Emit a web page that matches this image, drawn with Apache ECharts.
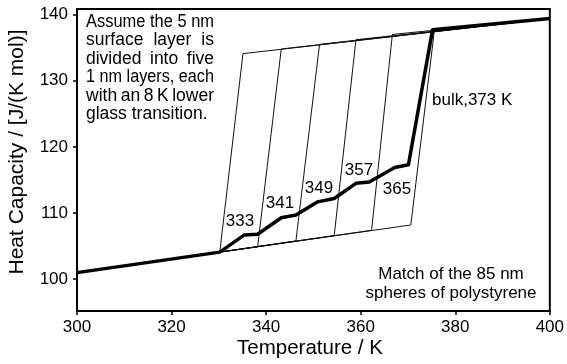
<!DOCTYPE html>
<html>
<head>
<meta charset="utf-8">
<script src="https://cdn.jsdelivr.net/npm/echarts@6/dist/echarts.min.js"></script>
<style>
  html, body { margin: 0; padding: 0; background: #fff; }
  #chart { width: 567px; height: 364px; }
</style>
</head>
<body>
<div id="chart"></div>
<script>
// Heat capacity of 85 nm polystyrene spheres: summed curve (bold)
const tempSum = [300, 330.2, 335.4, 338.2, 343.2, 346.3, 350.9, 354.4, 359.0, 361.8, 367.2, 370.1, 375.2, 400];
const cpSum   = [101.0, 104.1, 106.7, 106.8, 109.3, 109.7, 111.7, 112.2, 114.5, 114.7, 116.9, 117.3, 137.7, 139.4];

// Individual 1 nm layers (glass → transition → liquid) and the bulk
const layer333 = [[330.2, 104.1], [335.1, 134.1], [400, 139.4]];
const layer341 = [[330.2, 104.1], [338.2, 104.9], [343.2, 134.8], [400, 139.4]];
const layer349 = [[330.2, 104.1], [346.3, 105.8], [351.3, 135.5], [400, 139.4]];
const layer357 = [[330.2, 104.1], [354.4, 106.6], [359.0, 136.2], [400, 139.4]];
const layer365 = [[330.2, 104.1], [362.3, 107.4], [366.7, 137.0], [400, 139.4]];
const bulk373  = [[330.2, 104.1], [370.6, 108.2], [375.6, 137.7], [400, 139.4]];

const xTicks = [300, 320, 340, 360, 380, 400];
const yTicks = [100, 110, 120, 130, 140];

const layerLabels = ['333', '341', '349', '357', '365'];
const noteLines = ['Assume the 5 nm', 'surface layer is', 'divided into five', '1 nm layers, each', 'with an 8 K lower', 'glass transition.'];
const matchLines = ['Match of the 85 nm', 'spheres of polystyrene'];

const FONT = '"Liberation Sans", Arial, Helvetica, sans-serif';

function txt(x, y, text, size, align, extra) {
  return Object.assign({
    type: 'text', x: x, y: y, silent: true,
    style: {
      text: text, font: size + 'px ' + FONT, fill: '#000',
      align: align || 'left', verticalAlign: 'middle',
      textAlign: align || 'left', textVerticalAlign: 'middle'
    }
  }, extra || {});
}

// Justified note block in the upper-left corner
const meas = document.createElement('canvas').getContext('2d');
const noteSize = 17.5;
meas.font = noteSize + 'px ' + FONT;
const noteLeft = 86, noteRight = 214, noteTop = 22, noteStep = 18.5;
const graphics = [];
noteLines.forEach(function (line, i) {
  const y = noteTop + i * noteStep;
  const span = noteRight - noteLeft;
  const natural = meas.measureText(line).width;
  const squeeze = { scaleX: Math.min(1, span / natural), originX: 0, originY: 0 };
  if (i === noteLines.length - 1) {
    graphics.push(txt(noteLeft, y, line, noteSize, 'left', squeeze));
    return;
  }
  const words = line.split(' ');
  const widths = words.map(function (w) { return meas.measureText(w).width; });
  const total = widths.reduce(function (a, b) { return a + b; }, 0);
  const gap = (span - total) / (words.length - 1);
  if (gap < 3.5) {
    graphics.push(txt(noteLeft, y, line, noteSize, 'left', squeeze));
    return;
  }
  let x = noteLeft;
  words.forEach(function (w, k) {
    graphics.push(txt(x, y, w, noteSize, 'left'));
    x += widths[k] + gap;
  });
});

// Layer transition labels
const labelPos = [[240, 221], [280, 203], [319, 188], [359, 170], [397, 189]];
layerLabels.forEach(function (t, i) {
  graphics.push(txt(labelPos[i][0], labelPos[i][1], t, 17, 'center'));
});
graphics.push(txt(432, 100, 'bulk,373 K', 17, 'left'));
graphics.push(txt(451, 274, matchLines[0], 17, 'center'));
graphics.push(txt(451, 293, matchLines[1], 17, 'center'));

// Axis titles
graphics.push(txt(310, 348, 'Temperature / K', 20.5, 'center'));
graphics.push(txt(17.5, 152, 'Heat Capacity / [J/(K mol)]', 21, 'center', { rotation: Math.PI / 2 }));

const series = [layer333, layer341, layer349, layer357, layer365, bulk373].map(function (d) {
  return { type: 'line', symbol: 'none', silent: true, z: 2, data: d,
    lineStyle: { color: '#111', width: 1 } };
});
series.push({
  type: 'line', symbol: 'none', silent: true, z: 3,
  data: tempSum.map(function (t, i) { return [t, cpSum[i]]; }),
  lineStyle: { color: '#000', width: 3.5, join: 'round' }
});

const chart = echarts.init(document.getElementById('chart'), null, { renderer: 'canvas' });
chart.setOption({
  animation: false,
  backgroundColor: '#fff',
  grid: { left: 77, right: 16, top: 9, bottom: 53, show: true, borderColor: '#000', borderWidth: 2, backgroundColor: 'transparent' },
  xAxis: {
    type: 'value', min: 300, max: 400,
    axisLine: { lineStyle: { color: '#000', width: 2 } },
    axisTick: { show: true, length: 4, lineStyle: { color: '#000', width: 1.5 }, customValues: xTicks },
    axisLabel: { color: '#000', fontSize: 17, fontFamily: FONT, margin: 8, customValues: xTicks },
    splitLine: { show: false }
  },
  yAxis: {
    type: 'value', min: 95.2, max: 140.85,
    axisLine: { show: true, lineStyle: { color: '#000', width: 2 } },
    axisTick: { show: true, length: 4, lineStyle: { color: '#000', width: 1.5 }, customValues: yTicks },
    axisLabel: { color: '#000', fontSize: 17, fontFamily: FONT, margin: 9, customValues: yTicks },
    splitLine: { show: false }
  },
  series: series,
  graphic: { elements: graphics }
});
</script>
</body>
</html>
